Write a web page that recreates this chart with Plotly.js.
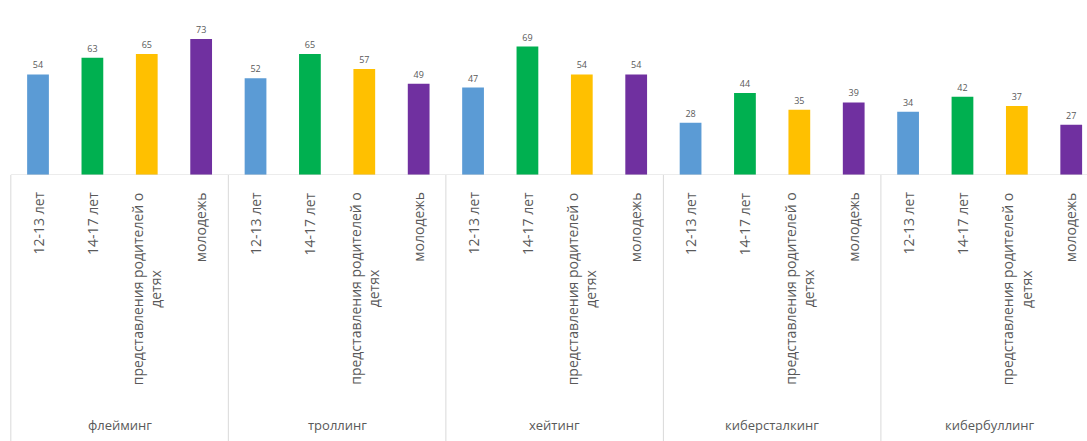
<!DOCTYPE html>
<html>
<head>
<meta charset="utf-8">
<script src="https://cdn.plot.ly/plotly-3.0.1.min.js"></script>
<style>html,body{margin:0;padding:0;background:#fff;}#chart{width:1087px;height:441px;}</style>
</head>
<body>
<div id="chart"></div>
<script>
// ---- data ----
const groups = ['флейминг', 'троллинг', 'хейтинг', 'киберсталкинг', 'кибербуллинг'];
const subcategories = ['12-13 лет', '14-17 лет', 'представления родителей о<br>детях', 'молодежь'];
const values_12_13 = [54, 52, 47, 28, 34];
const values_14_17 = [63, 65, 69, 44, 42];
const values_parents = [65, 57, 54, 35, 37];
const values_youth = [73, 49, 54, 39, 27];

const seriesValues = [values_12_13, values_14_17, values_parents, values_youth];
const seriesColors = ['#5B9BD5', '#00B050', '#FFC000', '#7030A0'];

const key = (g, s) => g + ' / ' + s;
const categoryOrder = [];
groups.forEach((g, gi) => subcategories.forEach((s, si) => categoryOrder.push(key(gi, si))));

const textColor = '#595959';
const fontFamily = '"Open Sans", "Liberation Sans", sans-serif';

const traces = seriesValues.map((vals, si) => ({
  type: 'bar',
  x: groups.map((g, gi) => key(gi, si)),
  y: vals,
  width: 0.4,
  marker: {color: seriesColors[si]},
  text: vals.map(String),
  textposition: 'outside',
  textfont: {size: 9, color: textColor, family: fontFamily},
  cliponaxis: false,
  hoverinfo: 'x+y',
  showlegend: false
}));

const W = 1087, H = 441, plotH = 175, bottom = H - plotH;
const shapes = [];
const annotations = [];
const lineColor = '#D9D9D9';

// baseline
shapes.push({type: 'line', xref: 'x', yref: 'y', x0: -0.5, x1: categoryOrder.length - 0.5, y0: 0, y1: 0,
  line: {color: lineColor, width: 1}});
// group dividers
for (let gi = 0; gi <= groups.length; gi++) {
  const xd = gi * subcategories.length - 0.5;
  shapes.push({type: 'line', xref: 'x', yref: 'paper', x0: xd, x1: xd, y0: 0, y1: -bottom / plotH,
    line: {color: lineColor, width: 1}});
}
// inner labels and group labels
groups.forEach((g, gi) => {
  subcategories.forEach((s, si) => {
    annotations.push({xref: 'x', yref: 'paper', x: key(gi, si), y: -(15 / plotH),
      xanchor: 'center', yanchor: 'top', textangle: -90, align: 'center', showarrow: false,
      text: s, font: {size: 14, color: textColor, family: fontFamily}});
  });
  annotations.push({xref: 'x', yref: 'paper', x: gi * subcategories.length + (subcategories.length - 1) / 2,
    y: -(250 / plotH), xanchor: 'center', yanchor: 'middle', showarrow: false,
    text: g, font: {size: 13, color: textColor, family: fontFamily}});
});

const layout = {
  width: W, height: H,
  margin: {l: 0, r: 0, t: 0, b: bottom, pad: 0},
  paper_bgcolor: '#ffffff', plot_bgcolor: '#ffffff',
  barmode: 'overlay',
  xaxis: {type: 'category', categoryorder: 'array', categoryarray: categoryOrder,
    range: [-0.699, 19.29], showticklabels: false, showgrid: false, zeroline: false, showline: false, ticks: ''},
  yaxis: {range: [0, 94], visible: false},
  shapes: shapes,
  annotations: annotations,
  showlegend: false
};

Plotly.newPlot('chart', traces, layout, {displayModeBar: false, staticPlot: true});
</script>
</body>
</html>
